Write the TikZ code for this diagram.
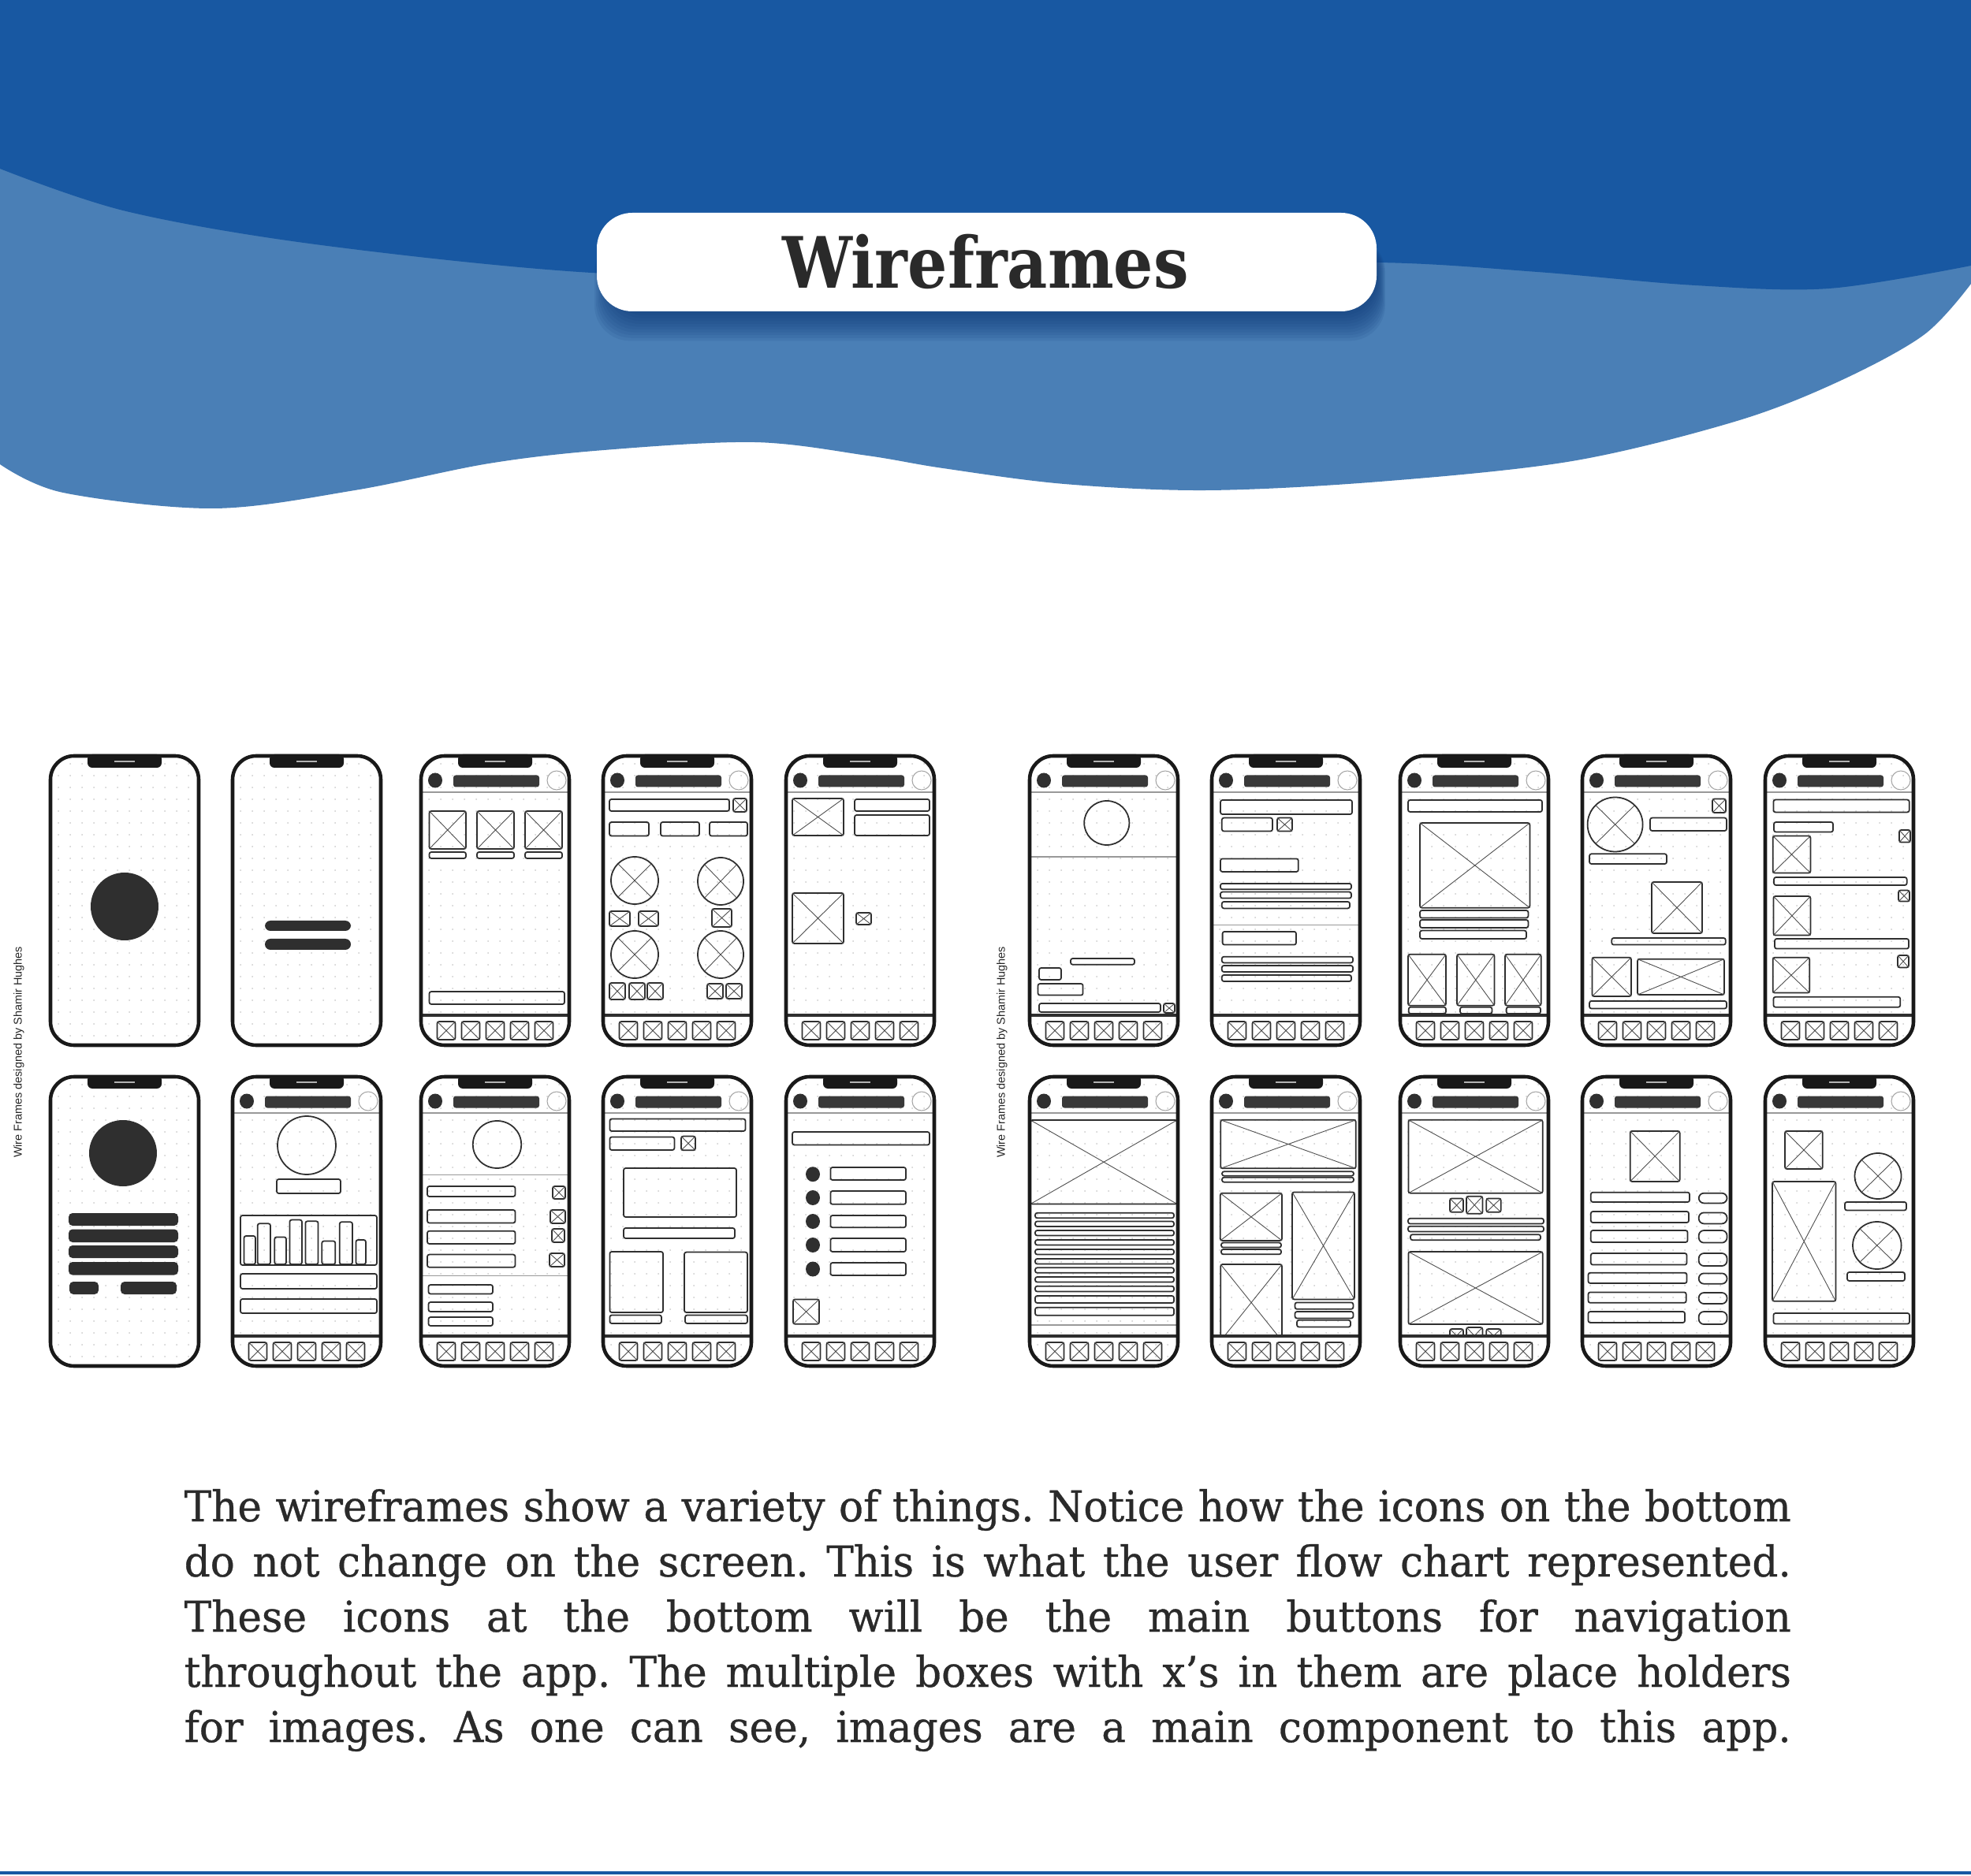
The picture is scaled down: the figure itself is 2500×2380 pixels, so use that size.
\documentclass[tikz,border=0pt]{standalone}
\usepackage{fontspec}
\usepackage{graphicx}
\newfontfamily\slab[FakeStretch=0.88]{DejaVu Serif}
\newfontfamily\bodyslab[FakeStretch=0.96,FakeBold=0.6]{DejaVu Serif}
\newfontfamily\credfont{Liberation Sans}
\definecolor{darkblue}{HTML}{1858A2}
\definecolor{lightblue}{HTML}{4A7FB6}
\definecolor{shadowc}{HTML}{0E3A78}
\definecolor{ink}{HTML}{2F2F2F}
\definecolor{txt}{HTML}{2A2A2A}
\tikzset{
 wbox/.style={draw=ink, line width=0.5pt, rounded corners=0.025cm},
 wline/.style={draw=ink, line width=0.5pt},
 wx/.style={draw=ink!85, line width=0.25pt},
 dkfill/.style={fill=ink},
 sepl/.style={draw=gray!80, line width=0.35pt},
 navl/.style={draw=ink, line width=1pt},
 dotrow/.style={draw=gray!40, line width=0.55pt, line cap=round, dash pattern=on 0.01pt off 4.2579pt},
 pill/.style={draw=ink, line width=0.5pt, rounded corners=0.065cm},
}
\newcommand\wbar[4]{\draw[wbox] (#1,#2) rectangle (#3,#4);}
\newcommand\imgx[4]{\draw[wbox] (#1,#2) rectangle (#3,#4); \draw[wx] (#1,#2) -- (#3,#4) (#1,#4) -- (#3,#2);}
\newcommand\imgc[4]{\draw[wline] (#1,#2) ellipse [x radius=#3, y radius=#4];
 \draw[wx] ({#1-0.707*#3},{#2-0.707*#4}) -- ({#1+0.707*#3},{#2+0.707*#4}) ({#1-0.707*#3},{#2+0.707*#4}) -- ({#1+0.707*#3},{#2-0.707*#4});}
\newcommand\phonebase{%
 \fill[white, rounded corners=0.3cm] (0,0) rectangle (188,367);
 \begin{scope}
  \clip[rounded corners=0.3cm] (0,0) rectangle (188,367);
  \foreach \yy in {10,25,...,355} \draw[dotrow] (10,\yy) -- (185,\yy);
 \end{scope}}
\newcommand\phonetop{%
 \draw[line width=1.3pt, draw=black!90, rounded corners=0.3cm] (0,0) rectangle (188,367);
 \fill[black!90, rounded corners=0.06cm] (47,-2) rectangle (141,15);
 \draw[gray!60, line width=0.45pt] (81,7) -- (107,7);}
\newcommand\phonehdr{%
 \fill[ink] (18,31) ellipse [x radius=9, y radius=9.5];
 \fill[ink!95, rounded corners=0.03cm] (41,24.5) rectangle (150,39.5);
 \draw[gray!70, line width=0.3pt] (172,31) circle [radius=12];
 \draw[sepl] (0,46) -- (188,46);}
\newcommand\navbar{%
 \draw[navl] (0,329) -- (188,329);
 \foreach \cx in {32,63,94,125,156} {\imgx{\cx-11.5}{337}{\cx+11.5}{360}}}
\newcommand\phoneat[3]{\begin{scope}[shift={(#1,#2)}]\phonebase #3\phonetop\end{scope}}
\begin{document}
\begin{tikzpicture}[x=0.01cm,y=-0.01cm]
\useasboundingbox (0,0) rectangle (2500,2380);
\fill[white] (0,0) rectangle (2500,2380);
% background waves
\fill[lightblue] (0,0) -- plot[smooth,tension=0.55] coordinates {(0,589) (80,625) (271,645) (450,622) (620,588) (766,571) (957,561) (1100,578) (1196,594) (1350,614) (1531,622) (1750,611) (1994,585) (2200,535) (2330,485) (2440,425) (2500,360)} -- (2500,0) -- cycle;
\fill[darkblue] (0,0) -- plot[smooth,tension=0.55] coordinates {(0,214) (160,268) (400,310) (750,346) (1100,352) (1450,338) (1746,333) (1950,345) (2150,362) (2320,366) (2500,337)} -- (2500,0) -- cycle;
% title box
\foreach \i in {0,...,9} \fill[shadowc, opacity=0.1, rounded corners=0.45cm] (772-2*\i,300) rectangle (1748+\i,400+3.6*\i);
\fill[white, rounded corners=0.45cm] (757,270) rectangle (1746,395);
\node[anchor=base, inner sep=0, text=txt] (title) at (1250,366) {\resizebox{5.15cm}{!}{\slab\bfseries\fontsize{25}{30}\selectfont Wireframes}};
% credits
\node[rotate=90, inner sep=0, text=black!85, font=\credfont\fontsize{4.1}{5}\selectfont] (cr1) at (24,1335) {Wire Frames designed by Shamir Hughes};
\node[rotate=90, inner sep=0, text=black!85, font=\credfont\fontsize{4.1}{5}\selectfont] (cr2) at (1271,1335) {Wire Frames designed by Shamir Hughes};
% ---------- row 1 ----------
\phoneat{64}{959}{\fill[ink] (94,191) circle [radius=43];}
\phoneat{295}{959}{\fill[ink, rounded corners=0.07cm] (41,209) rectangle (150,222) (41,232) rectangle (150,246);}
\phoneat{534}{959}{\phonehdr
 \imgx{10.5}{70}{57}{118}\imgx{71}{70}{118}{118}\imgx{132}{70}{179}{118}
 \wbar{10.5}{122}{57}{130}\wbar{71}{122}{118}{130}\wbar{132}{122}{179}{130}
 \wbar{10.5}{299}{182}{315}\navbar}
\phoneat{765}{959}{\phonehdr
 \wbar{8}{55}{160}{70}\imgx{165}{54}{182}{71}
 \wbar{8}{84}{58}{101.5}\wbar{73}{84}{122}{101.5}\wbar{135}{84}{183}{101.5}
 \imgc{40}{158}{30}{30}\imgc{149}{159}{29}{30}
 \imgx{8}{197}{34}{216}\imgx{45}{197}{70}{216}\imgx{138}{194}{163}{217}
 \imgc{40}{252}{30}{30}\imgc{149}{252}{29}{30}
 \imgx{8}{288}{28}{309}\imgx{33}{288}{53}{309}\imgx{56}{288}{76}{309}\imgx{132}{289}{152}{308}\imgx{156}{289}{176}{308}
 \navbar}
\phoneat{997}{959}{\phonehdr
 \imgx{8}{54}{73}{101}\wbar{87}{55}{182}{70}\wbar{87}{75}{182}{101}
 \imgx{8}{174}{73}{238}\imgx{89}{199}{108}{214}\navbar}
\phoneat{1306}{959}{\phonehdr
 \draw[wline] (97.8,85) ellipse [x radius=28.6, y radius=28];
 \draw[sepl] (0,128) -- (188,128);
 \wbar{52}{257}{133}{264.7}\wbar{12}{269}{40}{284}\wbar{10.5}{289}{67.6}{303.6}
 \wbar{12}{314}{166}{325}\imgx{170}{314}{184}{326}\navbar}
\phoneat{1537}{959}{\phonehdr
 \wbar{11}{56}{178}{74}\wbar{12.8}{78.6}{77}{95.5}\imgx{83}{78.6}{102}{95.5}
 \wbar{11}{130.4}{109.8}{147}
 \wbar{11}{161.9}{177}{169.3}\wbar{11}{172.6}{177}{180.6}\wbar{12.8}{185}{175}{193.4}
 \draw[sepl] (0,214.5) -- (188,214.5);
 \wbar{13.6}{222.9}{107}{239.6}
 \wbar{12.8}{254.7}{179}{262.4}\wbar{12.8}{266}{179}{274}\wbar{12.8}{278}{177}{286}\navbar}
\phoneat{1776}{959}{\phonehdr
 \wbar{10}{56}{180}{71}\imgx{25}{85}{164.4}{192.7}
 \wbar{25}{196}{162.4}{205.6}\wbar{25}{208}{162.4}{218}\wbar{25}{221.6}{160}{232}
 \imgx{10}{251.7}{58}{316.7}\imgx{72}{251.7}{119.5}{316.7}\imgx{133}{251.7}{178.7}{316.7}
 \wbar{10.7}{318.7}{58}{327}\wbar{76}{318.7}{116.5}{327}\wbar{134.6}{318.7}{178}{327}\navbar}
\phoneat{2007}{959}{\phonehdr
 \imgc{41.6}{87}{35}{34.5}\imgx{165}{54.6}{182}{72}
 \wbar{86}{78.6}{183}{95}\wbar{9}{124.3}{107}{137}
 \imgx{88}{160}{152}{225}\wbar{37.3}{231}{181.7}{239.6}
 \imgx{12.4}{255.7}{62}{305}\imgx{70}{257.7}{180}{303}\wbar{9}{311}{183}{320.5}\navbar}
\phoneat{2239}{959}{\phonehdr
 \wbar{10.4}{55.6}{182.7}{71.4}\wbar{11}{84}{86}{96.5}\imgx{170}{94}{184}{109.6}
 \imgx{9.6}{101.5}{57.4}{148.5}\wbar{11}{154}{179.6}{164}
 \imgx{169}{170.6}{183}{184.6}\imgx{10.4}{178}{57.4}{227.6}\wbar{12}{232}{182}{244.6}
 \imgx{168}{253}{182}{268.4}\imgx{9.6}{255.7}{56.2}{300.6}\wbar{10.4}{305.8}{171.3}{318.7}\navbar}
% ---------- row 2 ----------
\phoneat{64}{1366}{\fill[ink] (92,97) ellipse [x radius=43, y radius=42];
 \fill[ink, rounded corners=0.05cm] (23,173) rectangle (162,189) (23,193.5) rectangle (162,210) (23,214) rectangle (162,230) (23,235) rectangle (162,251.5) (24,260) rectangle (61,276) (89,260) rectangle (160,276);}
\phoneat{295}{1366}{\phonehdr
 \draw[wline] (94,87) ellipse [x radius=37, y radius=37];
 \wbar{56}{130}{137}{148}\wbar{10}{176}{183}{239}
 \foreach \a/\b/\c in {14.5/202/29,31.7/186.3/48,53.3/203.4/68,72.4/181.6/88,92.4/183.3/108.6,113.3/208.5/130.3,135.7/184.3/152,156.5/207/169} {\wbar{\a}{\b}{\c}{238}}
 \wbar{10}{250}{183}{269}\wbar{10}{282}{183}{300}\navbar}
\phoneat{534}{1366}{\phonehdr
 \draw[wline] (96.5,86) ellipse [x radius=30.7, y radius=30];
 \draw[sepl] (0,124.6) -- (188,124.6) (0,252.6) -- (188,252.6);
 \wbar{8}{139}{119.5}{152}\wbar{8}{169}{119.5}{185.5}\wbar{8}{195.7}{119.5}{212}\wbar{8}{225.6}{119.5}{241.7}
 \imgx{167}{139}{183}{155}\imgx{164}{169}{183}{186}\imgx{166}{193}{182}{210}\imgx{163}{224}{182}{241}
 \wbar{9.5}{264}{91}{275.5}\wbar{9.5}{286}{91}{298}\wbar{9.5}{305}{91}{316}\navbar}
\phoneat{765}{1366}{\phonehdr
 \wbar{8.4}{53.5}{180.5}{69}\wbar{8.4}{76.5}{90.4}{93}\imgx{99}{75.6}{117}{93.3}
 \wbar{26}{116}{169}{178}\wbar{26}{192}{167}{205}
 \wbar{8.4}{222}{76}{299}\wbar{103}{222.6}{183}{299}
 \wbar{8.4}{302.5}{74}{313}\wbar{104}{302.5}{183}{313}\navbar}
\phoneat{997}{1366}{\phonehdr
 \wbar{8}{70}{182}{86.5}
 \foreach \c/\t/\b in {123.7/115/131,153.5/145/161.8,183.5/176/191.2,213.5/205/222,244/236/252} {\fill[ink] (34,\c) ellipse [x radius=9, y radius=9.5]; \wbar{56.4}{\t}{152}{\b}}
 \imgx{9}{282.4}{42}{313.8}\navbar}
\phoneat{1306}{1366}{\phonehdr
 \imgx{1}{55}{187}{161.5}
 \foreach \t/\b in {172.8/179.3,183.5/190,195/201.5,207/213.5,219/225.5,231/237.5,242.3/248.8,254/260.5,265.7/272.5,278/287,292.8/302.8} {\wbar{7}{\t}{183}{\b}}
 \draw[sepl] (0,315) -- (188,315);\navbar}
\phoneat{1537}{1366}{\phonehdr
 \imgx{11.2}{54.8}{182.8}{116.3}\wbar{13}{120.3}{180}{125.7}\wbar{13}{127.7}{180}{133.7}
 \imgx{10.8}{147.7}{89}{207.9}\wbar{12}{210.6}{88}{216.6}\wbar{12}{219}{88}{225.3}
 \begin{scope}\clip (0,0) rectangle (188,329); \imgx{11.2}{238}{89}{335}\end{scope}
 \imgx{102}{146.4}{181}{282.4}
 \wbar{105.5}{286.4}{179.4}{294.8}\wbar{105.5}{298}{179.4}{306.5}\wbar{108}{308.8}{176}{317.5}\navbar}
\phoneat{1776}{1366}{\phonehdr
 \imgx{10.4}{54.8}{180.7}{147.7}
 \imgx{63}{154.4}{80}{171.8}\imgx{84}{151.7}{104.4}{173.8}\imgx{109.3}{154.4}{127.7}{171.8}
 \wbar{10}{179.8}{182}{186.5}\wbar{10}{189.8}{182}{196.5}\wbar{13}{200.2}{178}{207.2}
 \imgx{10.4}{222}{180.7}{314}
 \begin{scope}\clip (0,0) rectangle (188,329); \imgx{63}{320}{80}{337}\imgx{84}{318}{104.4}{339}\imgx{109.3}{320}{127.7}{337}\end{scope}
 \navbar}
\phoneat{2007}{1366}{\phonehdr
 \imgx{60.6}{68.9}{123.6}{133}
 \foreach \l/\t/\r/\b/\pt/\pb in {10.8/146.7/136/159/147.7/160.4,10.8/171/135/185/172.4/186.4,10.8/195/133.5/210/195/210.6,10.8/224/132.5/238.6/224/240,7.5/248.7/132.5/262/249.4/262.7,7.5/273.4/131.7/286.8/274/288,7.5/298/130/312/298/314} {\wbar{\l}{\t}{\r}{\b}\draw[pill] (147.7,\pt) rectangle (183.5,\pb);}
 \navbar}
\phoneat{2239}{1366}{\phonehdr
 \imgx{25}{68.9}{72.8}{117}\imgx{9}{133}{89.4}{284.8}
 \imgc{143}{126}{29.5}{29}\wbar{101}{159}{179}{169.5}
 \imgc{141.8}{214}{30.8}{30}\wbar{104}{248}{177}{259}
 \wbar{10.4}{300}{183}{313.5}\navbar}
% body text
\begin{scope}[every node/.style={anchor=base west, inner sep=0, text=txt, font=\bodyslab\frenchspacing\fontsize{15.3}{18}\selectfont}]
\node (l1) at (233,1930) {\makebox[20.37cm][s]{The wireframes show a variety of things. Notice how the icons on the bottom}};
\node (l2) at (233,2000) {\makebox[20.37cm][s]{do not change on the screen. This is what the user flow chart represented.}};
\node (l3) at (233,2070) {\makebox[20.37cm][s]{These icons at the bottom will be the main buttons for navigation}};
\node (l4) at (233,2140) {\makebox[20.37cm][s]{throughout the app. The multiple boxes with x’s in them are place holders}};
\node (l5) at (233,2210) {\makebox[20.37cm][s]{for images. As one can see, images are a main component to this app.}};
\end{scope}
\draw[darkblue, line width=1pt] (0,2376) -- (2500,2376);
\end{tikzpicture}
\end{document}
